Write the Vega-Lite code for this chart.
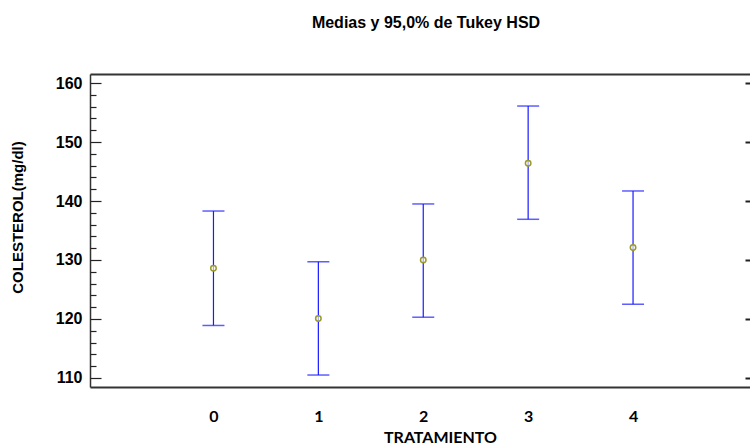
{
  "$schema": "https://vega.github.io/schema/vega-lite/v6.json",
  "width": 660,
  "height": 313,
  "autosize": {"type": "none"},
  "padding": {"left": 90, "top": 74, "right": 0, "bottom": 58},
  "background": "white",
  "title": {
    "text": "Medias y 95,0% de Tukey HSD",
    "font": "Liberation Sans",
    "fontSize": 16,
    "fontWeight": "bold",
    "color": "black",
    "anchor": "middle",
    "dx": 6,
    "offset": 43
  },
  "config": {
    "view": {"stroke": null},
    "axis": {"grid": false}
  },
  "data": {
    "values": [
      {"TRATAMIENTO": 0, "media": 128.6, "inferior": 118.9, "superior": 138.3},
      {"TRATAMIENTO": 1, "media": 120.1, "inferior": 110.5, "superior": 129.7},
      {"TRATAMIENTO": 2, "media": 130.0, "inferior": 120.3, "superior": 139.5},
      {"TRATAMIENTO": 3, "media": 146.4, "inferior": 136.9, "superior": 156.1},
      {"TRATAMIENTO": 4, "media": 132.1, "inferior": 122.5, "superior": 141.7}
    ]
  },
  "resolve": {"axis": {"x": "independent", "y": "independent"}},
  "layer": [
    {
      "mark": {"type": "rule", "color": "#1a1aff", "strokeWidth": 1.2},
      "encoding": {
        "x": {
          "field": "TRATAMIENTO",
          "type": "quantitative",
          "scale": {"domain": [-1.177, 5.115], "nice": false, "zero": false},
          "axis": {
            "orient": "bottom",
            "values": [0, 1, 2, 3, 4],
            "format": "d",
            "title": "TRATAMIENTO",
            "titleFont": "Lato",
            "titleFontSize": 16,
            "titleFontWeight": "bold",
            "titleColor": "black",
            "titleX": 350,
            "titleY": 55.5,
            "titleBaseline": "alphabetic",
            "titleAnchor": "middle",
            "ticks": false,
            "tickSize": 0,
            "labelFont": "Lato",
            "labelFontSize": 16,
            "labelFontWeight": "bold",
            "labelColor": "black",
            "labelBaseline": "alphabetic",
            "labelPadding": 34.7,
            "domainColor": "#333333",
            "domainWidth": 2
          }
        },
        "y": {
          "field": "inferior",
          "type": "quantitative",
          "scale": {"domain": [108.47, 161.53], "nice": false, "zero": false},
          "axis": {
            "orient": "left",
            "values": [110, 120, 130, 140, 150, 160],
            "title": "COLESTEROL(mg/dl)",
            "titleFont": "Liberation Sans",
            "titleFontSize": 15,
            "titleFontWeight": "bold",
            "titleColor": "black",
            "titleX": -65,
            "titleY": 143,
            "titleAnchor": "middle",
            "titleAlign": "center",
            "ticks": false,
            "labelFont": "Liberation Sans",
            "labelFontSize": 16,
            "labelFontWeight": "bold",
            "labelColor": "black",
            "labelPadding": 8,
            "labelBaseline": "middle",
            "labelOverlap": false,
            "domainColor": "#333333",
            "domainWidth": 1.5
          }
        },
        "y2": {"field": "superior"}
      }
    },
    {
      "mark": {"type": "tick", "orient": "horizontal", "color": "#1a1aff", "size": 22, "thickness": 1.5},
      "encoding": {
        "x": {
          "field": "TRATAMIENTO",
          "type": "quantitative",
          "axis": {
            "orient": "top",
            "title": null,
            "labels": false,
            "ticks": false,
            "domainColor": "#333333",
            "domainWidth": 2
          }
        },
        "y": {
          "field": "inferior",
          "type": "quantitative",
          "axis": {
            "orient": "right",
            "offset": -660,
            "title": null,
            "labels": false,
            "domain": false,
            "values": [110, 112, 114, 116, 118, 120, 122, 124, 126, 128, 130, 132, 134, 136, 138, 140, 142, 144, 146, 148, 150, 152, 154, 156, 158, 160],
            "tickCount": 30,
            "tickSize": {"condition": {"test": "datum.value % 10 === 0", "value": 11}, "value": 6},
            "tickColor": "#222222",
            "tickWidth": 1.2
          }
        }
      }
    },
    {
      "mark": {"type": "tick", "orient": "horizontal", "color": "#1a1aff", "size": 22, "thickness": 1.5},
      "encoding": {
        "x": {"field": "TRATAMIENTO", "type": "quantitative", "axis": null},
        "y": {
          "field": "superior",
          "type": "quantitative",
          "axis": {
            "orient": "right",
            "title": null,
            "labels": false,
            "domain": false,
            "values": [110, 120, 130, 140, 150, 160],
            "tickSize": -5,
            "tickColor": "#222222",
            "tickWidth": 2
          }
        }
      }
    },
    {
      "mark": {"type": "point", "shape": "circle", "filled": false, "size": 30, "stroke": "#9a9a2a", "strokeWidth": 1.5, "fill": "white", "fillOpacity": 0.6},
      "encoding": {
        "x": {"field": "TRATAMIENTO", "type": "quantitative", "axis": null},
        "y": {"field": "media", "type": "quantitative", "axis": null}
      }
    }
  ]
}
